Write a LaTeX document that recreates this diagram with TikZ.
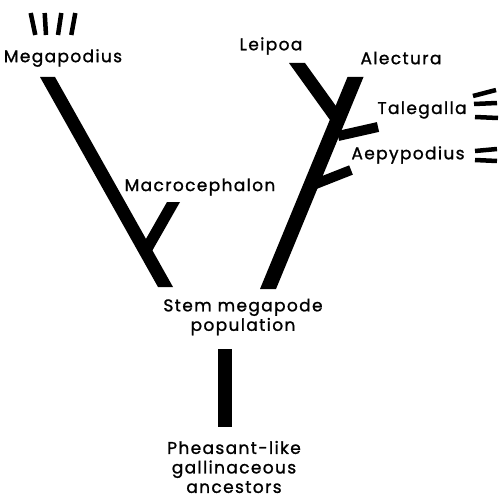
\documentclass[tikz,border=0pt]{standalone}
\usepackage{fontspec}
\setmainfont{Poppins}[LetterSpace=8, FakeBold=1.2]
\usetikzlibrary{calc}

% filled limb with horizontal ends: from, to, half width
\newcommand{\limb}[3]{%
  \fill ($(#1)+(-#3,0)$) -- ($(#1)+(#3,0)$) -- ($(#2)+(#3,0)$) -- ($(#2)+(-#3,0)$) -- cycle;}

\begin{document}
\begin{tikzpicture}[
    x=1pt, y=-1pt,
    every node/.style={font=\fontsize{17}{19.5}\selectfont},
    taxon/.style={inner sep=0pt, align=center},
    twig/.style={line width=10pt},
    tick/.style={line width=4.5pt},
]
\useasboundingbox (0,0) rectangle (502,500);

% Labels
\node[taxon] (megapodius) at (63,58) {Megapodius};
\node[taxon] (leipoa) at (271,46) {Leipoa};
\node[taxon] (alectura) at (401,58) {Alectura};
\node[taxon] (talegalla) at (422,110) {Talegalla};
\node[taxon] (aepypodius) at (408,155) {Aepypodius};
\node[taxon] (macro) at (200,187) {Macrocephalon};
\node[taxon] (stem) at (243,317) {Stem megapode\\population};
\node[taxon] (ancestors) at (234,467) {Pheasant-like\\gallinaceous\\ancestors};

% Left clade
\coordinate (megaTop) at (47.5,77);
\coordinate (megaBot) at (165.5,287);
\coordinate (macroTop) at (173.5,202);
\coordinate (macroBase) at (145,252);
\limb{megaTop}{megaBot}{7.5}
\limb{macroTop}{macroBase}{6.5}

% Right clade
\coordinate (alecTop) at (355.5,77);
\coordinate (rightBot) at (268,289);
\coordinate (leipTop) at (297,63);
\coordinate (leipBase) at (338,120);
\coordinate (taleTip) at (378,127);
\coordinate (taleBase) at (338,136);
\coordinate (aepyTip) at (351,170);
\coordinate (aepyBase) at (313,185);
\limb{alecTop}{rightBot}{8}
\limb{leipTop}{leipBase}{8}
\draw[twig] (taleBase) -- (taleTip);
\draw[twig] (aepyBase) -- (aepyTip);

% Stem
\fill (218,349) rectangle (232,427);

% Ticks
\draw[tick] (30.7,13) -- (35.3,35);
\draw[tick] (44.7,13) -- (46,35);
\draw[tick] (61.3,13) -- (58,35);
\draw[tick] (75.3,13) -- (71.3,35);
\draw[tick] (473,96) -- (496,90);
\draw[tick] (474,104) -- (497,103);
\draw[tick] (475,117) -- (498,118);
\draw[tick] (475,151) -- (497,149);
\draw[tick] (475,160) -- (497,161);

\end{tikzpicture}
\end{document}
